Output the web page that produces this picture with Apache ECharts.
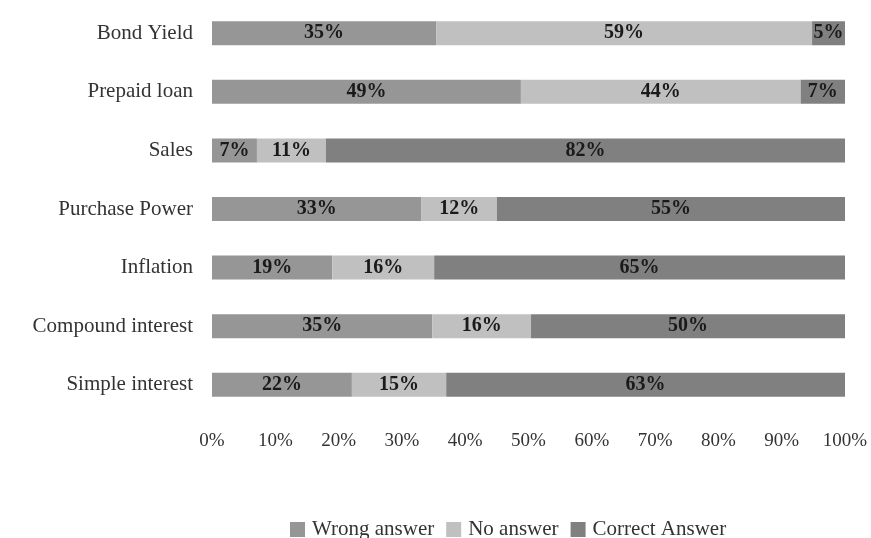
<!DOCTYPE html>
<html>
<head>
<meta charset="utf-8">
<script src="https://cdn.jsdelivr.net/npm/echarts@6/dist/echarts.min.js"></script>
<style>
  html, body { margin: 0; padding: 0; background: #fff; }
</style>
</head>
<body>
<div id="main" style="width: 871px; height: 538px"></div>
<script>
// categories, top to bottom
const categories = [
  "Bond Yield",
  "Prepaid loan",
  "Sales",
  "Purchase Power",
  "Inflation",
  "Compound interest",
  "Simple interest",
];
// shares (labels are rounded)
const wrongAnswer = [35.4, 48.8, 7.1, 33.1, 19.0, 34.8, 22.1];
const noAnswer = [59.4, 44.2, 10.9, 11.9, 16.1, 15.6, 14.9];
const correctAnswer = [5.2, 7.0, 82.0, 55.0, 64.9, 49.6, 63.0];
const xTicks = [0, 10, 20, 30, 40, 50, 60, 70, 80, 90, 100];

const font = "'Liberation Serif', 'DejaVu Serif', serif";

function makeSeries(name, data, color) {
  return {
    name: name,
    type: "bar",
    stack: "total",
    data: data,
    barWidth: 24,
    itemStyle: { color: color },
    label: {
      show: true,
      position: "inside",
      fontFamily: font,
      fontWeight: "bold",
      fontSize: 20,
      color: "#1a1a1a",
      formatter(p) {
        return Math.round(p.value) + "%";
      },
    },
  };
}

let chart = echarts.init(document.getElementById("main"));
let option = {
  backgroundColor: "#fff",
  animation: false,
  grid: {
    left: 212,
    right: 26,
    top: 4,
    bottom: 124,
    containLabel: false,
    outerBoundsMode: "none",
  },
  xAxis: {
    type: "value",
    min: 0,
    max: 100,
    interval: 10,
    axisLine: { show: false },
    axisTick: { show: false },
    splitLine: { show: false },
    axisLabel: {
      margin: 18,
      fontFamily: font,
      fontSize: 19,
      color: "#333",
      formatter(v) {
        return xTicks.indexOf(v) >= 0 ? v + "%" : "";
      },
    },
  },
  yAxis: {
    type: "category",
    data: categories,
    inverse: true,
    axisLine: { show: false },
    axisTick: { show: false },
    splitLine: { show: false },
    axisLabel: {
      margin: 19,
      fontFamily: font,
      fontSize: 21,
      color: "#333",
    },
  },
  legend: {
    top: 514,
    left: 285,
    padding: 5,
    itemWidth: 15,
    itemHeight: 15,
    itemGap: 12,
    icon: "rect",
    textStyle: { fontFamily: font, fontSize: 21, color: "#333", padding: [0, 0, 0, 2] },
    data: ["Wrong answer", "No answer", "Correct Answer"],
  },
  series: [
    makeSeries("Wrong answer", wrongAnswer, "#969696"),
    makeSeries("No answer", noAnswer, "#c0c0c0"),
    makeSeries("Correct Answer", correctAnswer, "#808080"),
  ],
};
chart.setOption(option, true);
</script>
</body>
</html>
